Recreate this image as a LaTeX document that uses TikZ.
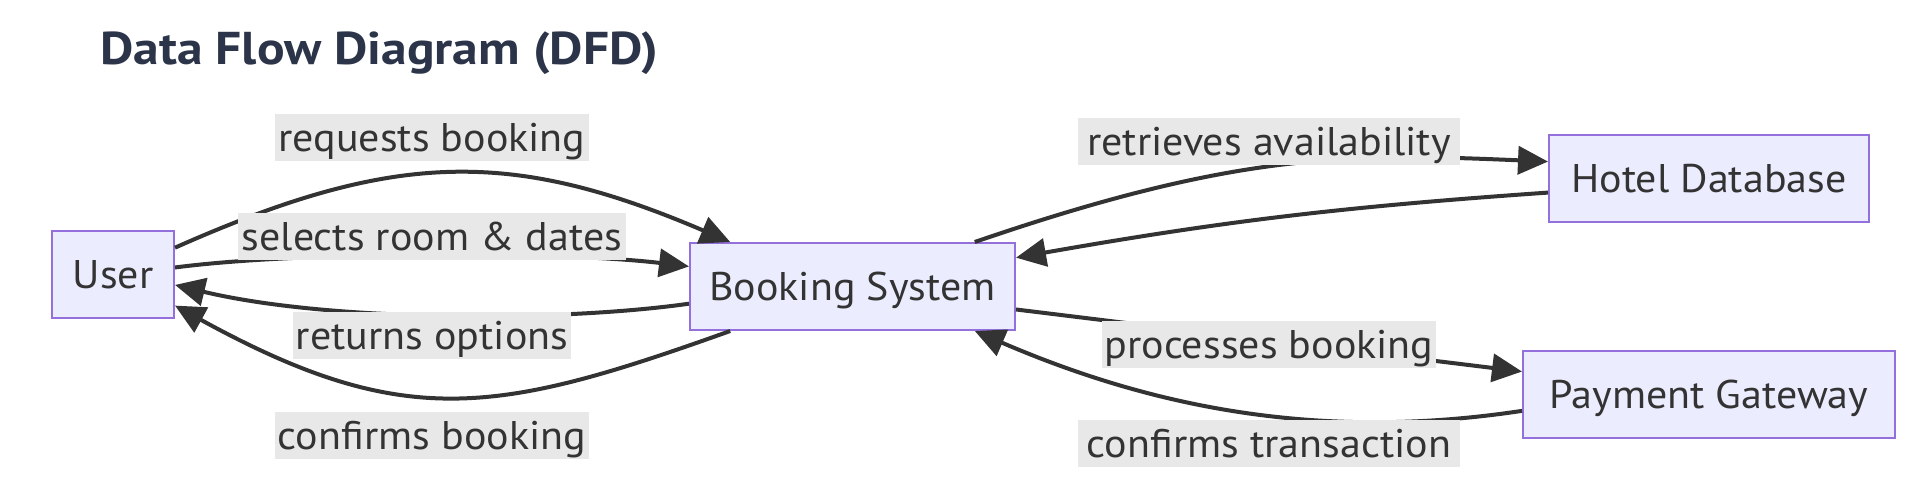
\documentclass[tikz,border=0pt]{standalone}
\usepackage{fontspec}
\setmainfont[FakeStretch=1.05]{PT Sans}
\newfontfamily\titlefont[FakeStretch=1.12]{PT Sans}
\usetikzlibrary{arrows.meta}
\definecolor{nodefill}{HTML}{ECECFF}
\definecolor{nodeborder}{HTML}{9370DB}
\definecolor{edgecol}{HTML}{333333}
\definecolor{labelbg}{HTML}{E8E8E8}
\definecolor{titlecol}{HTML}{2B3448}
\begin{document}
\begin{tikzpicture}[x=0.5pt,y=-0.5pt,
  box/.style={draw=nodeborder, line width=1pt, fill=nodefill, inner sep=0pt,
    minimum height=43.5pt, text=edgecol, font=\fontsize{20}{24}\selectfont,
    text height=14pt, text depth=0pt},
  elabel/.style={fill=labelbg, inner sep=0pt, minimum height=23.5pt, text=edgecol,
    font=\fontsize{20}{24}\selectfont, text height=14pt, text depth=0pt},
  flow/.style={draw=edgecol, line width=2pt, -{Triangle[length=15pt,width=14pt]}},
  titlestyle/.style={anchor=base, text=titlecol, font=\titlefont\fontsize{23}{28}\selectfont\bfseries}]
\useasboundingbox (0,0) rectangle (1916,487);

\node[titlestyle] (title) at (379.5,64) {Data Flow Diagram (DFD)};

\node[box, minimum width=61pt] (user) at (113,274) {User};
\node[box, minimum width=162.5pt] (bs) at (852.5,286.5) {Booking System};
\node[box, minimum width=160pt] (hdb) at (1709,178.5) {Hotel Database};
\node[box, minimum width=186pt] (pg) at (1709,394.5) {Payment Gateway};

\draw[flow] (user.23) .. controls (393,151) and (510,148) .. (bs.160);
\draw[flow] (user.6.5) .. controls (300,251) and (560,251) .. (bs.173);
\draw[flow] (bs.186) .. controls (560,322) and (330,322) .. (user.350);
\draw[flow] (bs.200) .. controls (498,414) and (405,432) .. (user.333);
\draw[flow] (bs.20) .. controls (1237,152) and (1349,153) .. (hdb.174.5);
\draw[flow] (hdb.185) to[bend right=3] (bs.10);
\draw[flow] (bs.352.5) -- (pg.173.4);
\draw[flow] (pg.185.7) .. controls (1323,441) and (1156,409) .. (bs.340);

\node[elabel, minimum width=157pt] (l1) at (432,137.5) {requests booking};
\node[elabel, minimum width=194pt] (l2) at (432,236.5) {selects room \& dates};
\node[elabel, minimum width=139pt] (l3) at (432,335.5) {returns options};
\node[elabel, minimum width=157pt] (l4) at (432,435.5) {confirms booking};
\node[elabel, minimum width=191pt] (l5) at (1269,141) {retrieves availability};
\node[elabel, minimum width=167pt] (l6) at (1269,344.5) {processes booking};
\node[elabel, minimum width=191pt] (l7) at (1269,443.5) {confirms transaction};
\end{tikzpicture}
\end{document}
